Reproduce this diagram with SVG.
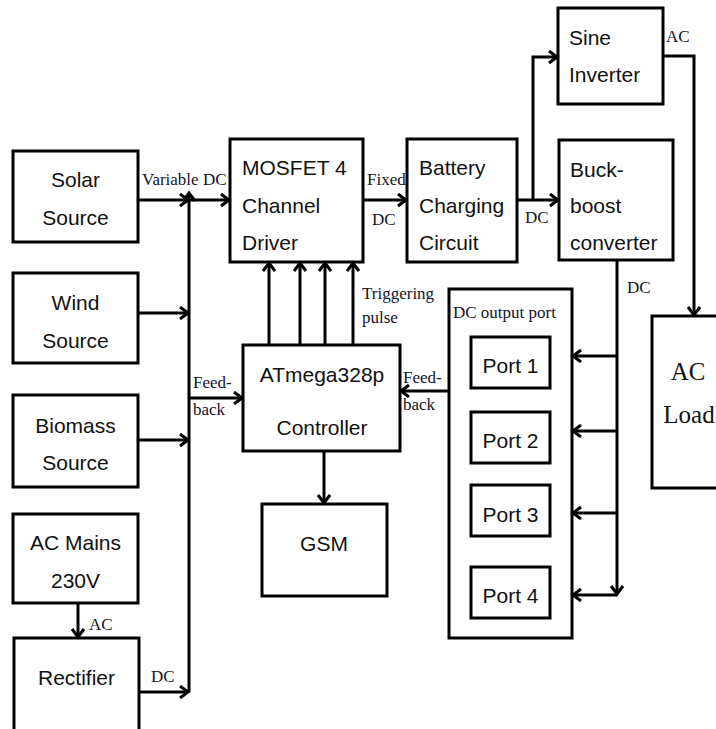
<svg xmlns="http://www.w3.org/2000/svg" width="716" height="729" viewBox="0 0 716 729">
<style>
.box{fill:#fff;stroke:#000;stroke-width:3}
.lbl{font-family:"Liberation Sans",Arial,sans-serif;font-size:21px;fill:#111}
.ser{font-family:"Liberation Serif","Times New Roman",serif;font-size:17px;fill:#141428}
.big{font-family:"Liberation Serif","Times New Roman",serif;font-size:25px;fill:#111}
.ln{fill:none;stroke:#000;stroke-width:3}
.ar{fill:none;stroke:#000;stroke-width:3;marker-end:url(#ah)}
</style>
<defs>
<marker id="ah" markerUnits="userSpaceOnUse" markerWidth="14" markerHeight="16" refX="10" refY="7" orient="auto" viewBox="0 0 14 16">
<path d="M2,1 L10,7 L2,13" fill="none" stroke="#000" stroke-width="3"/>
</marker>
</defs>
<rect width="716" height="729" fill="#fff"/>

<g id="solar"><rect class="box" x="13" y="151" width="125" height="91"/><text class="lbl" x="75.5" y="187" text-anchor="middle">Solar</text><text class="lbl" x="75.5" y="225" text-anchor="middle">Source</text></g>
<g id="wind"><rect class="box" x="13" y="273" width="125" height="90"/><text class="lbl" x="75.5" y="310" text-anchor="middle">Wind</text><text class="lbl" x="75.5" y="348" text-anchor="middle">Source</text></g>
<g id="biomass"><rect class="box" x="13" y="395" width="125" height="92"/><text class="lbl" x="75.5" y="433" text-anchor="middle">Biomass</text><text class="lbl" x="75.5" y="470" text-anchor="middle">Source</text></g>
<g id="acmains"><rect class="box" x="13" y="514" width="125" height="89"/><text class="lbl" x="75.5" y="550" text-anchor="middle">AC Mains</text><text class="lbl" x="75.5" y="588" text-anchor="middle">230V</text></g>
<g id="rectifier"><rect class="box" x="14" y="638" width="125" height="100"/><text class="lbl" x="76.5" y="685" text-anchor="middle">Rectifier</text></g>

<g id="mosfet"><rect class="box" x="230" y="139" width="133" height="123"/><text class="lbl" x="242" y="175">MOSFET 4</text><text class="lbl" x="242" y="213">Channel</text><text class="lbl" x="242" y="250">Driver</text></g>
<g id="battery"><rect class="box" x="407" y="139" width="110" height="123"/><text class="lbl" x="419" y="175">Battery</text><text class="lbl" x="419" y="213">Charging</text><text class="lbl" x="419" y="250">Circuit</text></g>
<g id="sine"><rect class="box" x="558" y="8" width="105" height="96"/><text class="lbl" x="569" y="45">Sine</text><text class="lbl" x="569" y="82">Inverter</text></g>
<g id="buckboost"><rect class="box" x="559" y="140" width="114" height="120"/><text class="lbl" x="570" y="177">Buck-</text><text class="lbl" x="570" y="213">boost</text><text class="lbl" x="570" y="250">converter</text></g>
<g id="atmega"><rect class="box" x="243" y="345" width="157" height="106"/><text class="lbl" x="322" y="382" text-anchor="middle">ATmega328p</text><text class="lbl" x="322" y="435" text-anchor="middle">Controller</text></g>
<g id="gsm"><rect class="box" x="262" y="504" width="125" height="92"/><text class="lbl" x="324" y="551" text-anchor="middle">GSM</text></g>
<g id="dcport"><rect class="box" x="449" y="289" width="123" height="349"/><text class="ser" x="453" y="318">DC output port</text></g>
<g id="port1"><rect class="box" x="471" y="337" width="79" height="51"/><text class="lbl" x="510.5" y="373" text-anchor="middle">Port 1</text></g>
<g id="port2"><rect class="box" x="471" y="412" width="79" height="51"/><text class="lbl" x="510.5" y="448" text-anchor="middle">Port 2</text></g>
<g id="port3"><rect class="box" x="471" y="485" width="79" height="51"/><text class="lbl" x="510.5" y="522" text-anchor="middle">Port 3</text></g>
<g id="port4"><rect class="box" x="471" y="567" width="79" height="51"/><text class="lbl" x="510.5" y="603" text-anchor="middle">Port 4</text></g>
<g id="acload"><rect class="box" x="652" y="316" width="80" height="172"/><text class="big" x="688" y="380" text-anchor="middle">AC</text><text class="big" x="689" y="423" text-anchor="middle">Load</text></g>

<g id="connectors">
<line class="ar" x1="138" y1="200" x2="188" y2="200"/>
<line class="ar" x1="189" y1="692" x2="189" y2="193"/>
<line class="ar" x1="189" y1="200" x2="229" y2="200"/>
<line class="ar" x1="138" y1="313" x2="188" y2="313"/>
<line class="ar" x1="138" y1="440" x2="188" y2="440"/>
<line class="ar" x1="139" y1="692" x2="188" y2="692"/>
<line class="ar" x1="78" y1="603" x2="78" y2="637"/>
<line class="ar" x1="189" y1="398" x2="242" y2="398"/>
<line class="ar" x1="363" y1="200" x2="406" y2="200"/>
<line class="ar" x1="269" y1="345" x2="269" y2="263"/>
<line class="ar" x1="300" y1="345" x2="300" y2="263"/>
<line class="ar" x1="325" y1="345" x2="325" y2="263"/>
<line class="ar" x1="353" y1="345" x2="353" y2="263"/>
<line class="ar" x1="324" y1="451" x2="324" y2="503"/>
<line class="ar" x1="449" y1="391" x2="401" y2="391"/>
<line class="ar" x1="517" y1="200" x2="558" y2="200"/>
<polyline class="ar" points="533,200 533,57 557,57"/>
<polyline class="ar" points="663,56 694,56 694,315"/>
<polyline class="ar" points="617,260 617,594"/>
<line class="ar" x1="617" y1="356" x2="573" y2="356"/>
<line class="ar" x1="617" y1="431" x2="573" y2="431"/>
<line class="ar" x1="617" y1="513" x2="573" y2="513"/>
<line class="ar" x1="617" y1="595" x2="573" y2="595"/>
</g>

<g id="labels">
<text class="ser" x="142" y="185">Variable DC</text>
<text class="ser" x="193" y="388">Feed-</text>
<text class="ser" x="193" y="415">back</text>
<text class="ser" x="89" y="630">AC</text>
<text class="ser" x="151" y="682">DC</text>
<text class="ser" x="367" y="185">Fixed</text>
<text class="ser" x="372" y="225">DC</text>
<text class="ser" x="362" y="299">Triggering</text>
<text class="ser" x="362" y="323">pulse</text>
<text class="ser" x="403" y="383">Feed-</text>
<text class="ser" x="403" y="410">back</text>
<text class="ser" x="525" y="223">DC</text>
<text class="ser" x="666" y="42">AC</text>
<text class="ser" x="627" y="293">DC</text>
</g>
</svg>
